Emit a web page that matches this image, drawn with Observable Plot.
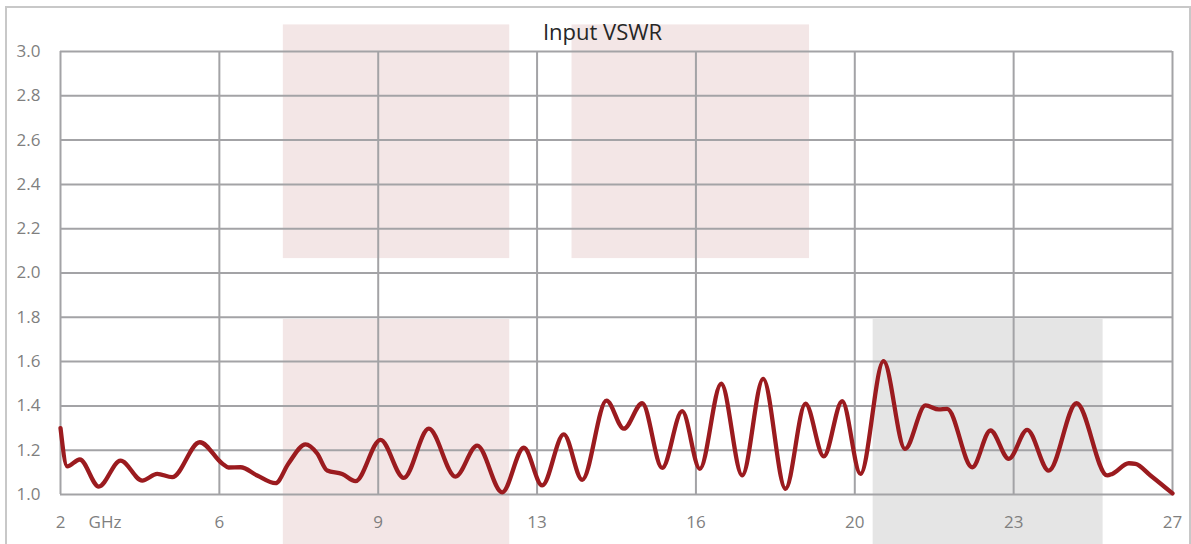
<!DOCTYPE html>
<html>
<head>
<meta charset="utf-8">
<script src="https://cdn.jsdelivr.net/npm/d3@7"></script>
<script src="https://cdn.jsdelivr.net/npm/@observablehq/plot@0.6"></script>
<style>
  html, body { margin: 0; padding: 0; background: #fff; }
  #wrap { position: relative; width: 1191px; height: 544px; overflow: hidden; }
  #border { position: absolute; left: 5px; top: 6px; width: 1182px; height: 536px; border: 2px solid #c8c8c8; box-sizing: content-box; pointer-events: none; }
</style>
</head>
<body>
<div id="wrap"><div id="border"></div></div>
<script>
// Frequency (GHz) and VSWR
const freq = [2.000, 2.151, 2.434, 2.861, 3.349, 3.837, 4.174, 4.511, 5.132, 5.635, 5.777, 6.047, 6.422, 6.834,
  7.126, 7.508, 7.771, 7.996, 8.333, 8.632, 9.194, 9.718, 10.280, 10.880, 11.368, 11.930, 12.416, 12.830,
  13.315, 13.729, 14.275, 14.664, 15.078, 15.528, 15.977, 16.373, 16.854, 17.326, 17.798, 18.299, 18.749,
  19.160, 19.574, 19.986, 20.503, 20.986, 21.447, 21.746, 21.935, 22.497, 22.908, 23.320, 23.733, 24.219,
  24.842, 25.532, 25.645, 26.018, 26.168, 26.505, 27.000];
const vswr = [1.30, 1.127, 1.158, 1.036, 1.153, 1.063, 1.093, 1.078, 1.236, 1.14, 1.122, 1.123, 1.086, 1.051,
  1.14, 1.226, 1.185, 1.108, 1.093, 1.06, 1.247, 1.075, 1.297, 1.081, 1.221, 1.01, 1.211, 1.041,
  1.271, 1.066, 1.424, 1.297, 1.412, 1.12, 1.376, 1.116, 1.50, 1.086, 1.522, 1.026, 1.41,
  1.172, 1.421, 1.093, 1.602, 1.206, 1.402, 1.384, 1.387, 1.123, 1.289, 1.161, 1.292, 1.108,
  1.412, 1.086, 1.093, 1.141, 1.138, 1.086, 1.005];

// Shaded bands (GHz start/end, VSWR bottom/top)
const bandX1 = [7.01, 13.50, 7.01, 20.27];
const bandX2 = [12.10, 18.84, 12.10, 25.44];
const bandY1 = [2.065, 2.065, 0.774, 0.774];
const bandY2 = [3.12, 3.12, 1.79, 1.79];
const bandKind = ["pink", "pink", "pink", "gray"];

const xTickLabels = ["2", "6", "9", "13", "16", "20", "23", "27"];
const yTickLabels = ["1.0", "1.2", "1.4", "1.6", "1.8", "2.0", "2.2", "2.4", "2.6", "2.8", "3.0"];
const title = "Input VSWR";
const unitLabel = "GHz";

const xMin = 2, xMax = 27;
const xTicks = xTickLabels.map((_, i) => xMin + (xMax - xMin) * i / (xTickLabels.length - 1));
const yTicks = yTickLabels.map(Number);

const data = freq.map((f, i) => ({f, v: vswr[i]}));
const bands = bandX1.map((x1, i) => ({x1, x2: bandX2[i], y1: bandY1[i], y2: bandY2[i], kind: bandKind[i]}));

const gridColor = "#a3a3a6";
const labelColor = "#7f7f7f";
const chart = Plot.plot({
  width: 1191,
  height: 544,
  marginLeft: 60,
  marginRight: 19,
  marginTop: 51,
  marginBottom: 50,
  style: {fontFamily: "'Open Sans', sans-serif", fontSize: "17px", color: labelColor, background: "transparent"},
  x: {domain: [xMin, xMax]},
  y: {domain: [1, 3]},
  marks: [
    Plot.rect(bands, {x1: "x1", x2: "x2", y1: "y1", y2: "y2", fill: d => d.kind === "pink" ? "#f3e6e6" : "#e5e5e5"}),
    Plot.gridX(xTicks, {stroke: gridColor, strokeOpacity: 1, strokeWidth: 2}),
    Plot.gridY(yTicks, {stroke: gridColor, strokeOpacity: 1, strokeWidth: 2}),
    Plot.axisY(yTicks, {tickSize: 0, tickPadding: 20, tickFormat: (d, i) => yTickLabels[i], fill: labelColor, fontSize: 17}),
    Plot.axisX(xTicks, {tickSize: 0, tickPadding: 21, tickFormat: (d, i) => xTickLabels[i], fill: labelColor, fontSize: 17}),
    Plot.text([unitLabel], {x: 3, frameAnchor: "bottom", dy: 28, lineAnchor: "middle", fill: labelColor, fontSize: 17}),
    Plot.line(data, {x: "f", y: "v", stroke: "#9b1b1f", strokeWidth: 4.3, curve: "monotone-x"}),
    Plot.text([title], {frameAnchor: "top", dx: -14, dy: -19, lineAnchor: "middle", fill: "#262626", fontSize: 22})
  ]
});
document.getElementById("wrap").prepend(chart);
</script>
</body>
</html>
